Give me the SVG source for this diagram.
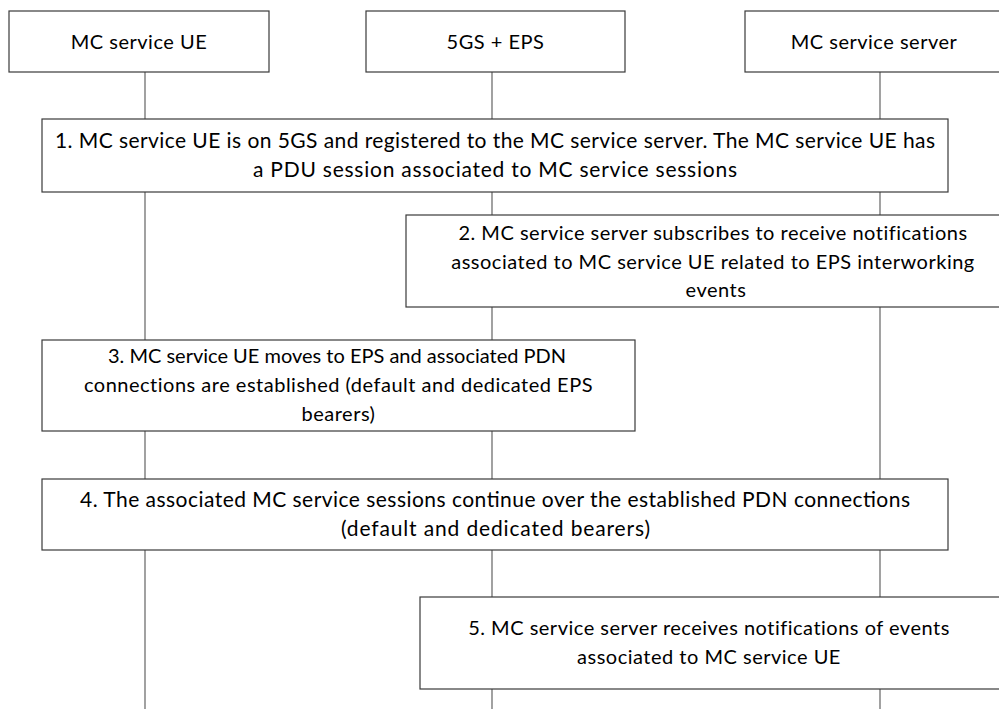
<svg xmlns="http://www.w3.org/2000/svg" width="999" height="709" viewBox="0 0 999 709">
  <style>
    .box { fill: #ffffff; stroke: #3a3a3a; stroke-width: 1.2; }
    .life { stroke: #7a7a7a; stroke-width: 1.4; fill: none; }
    text { font-family: Lato, "Liberation Sans", Arial, sans-serif; font-size: 20px; letter-spacing: 0.5px; fill: #000000; text-anchor: middle; }
    .wide { font-size: 21px; letter-spacing: 0; }
  </style>
  <rect x="0" y="0" width="999" height="709" fill="#ffffff"/>
  <g id="connectors">
    <line class="life" x1="145" y1="72" x2="145" y2="709"/>
    <line class="life" x1="492" y1="72" x2="492" y2="709"/>
    <line class="life" x1="880" y1="72" x2="880" y2="709"/>
  </g>
  <g id="header-ue">
    <rect class="box" x="9" y="11" width="260" height="61"/>
    <text x="139" y="49">MC service UE</text>
  </g>
  <g id="header-5gs-eps">
    <rect class="box" x="366" y="11" width="259" height="61"/>
    <text x="495.5" y="49">5GS + EPS</text>
  </g>
  <g id="header-server">
    <rect class="box" x="745" y="11" width="260" height="61"/>
    <text x="874" y="49">MC service server</text>
  </g>
  <g id="step1">
    <rect class="box" x="42" y="119" width="906" height="73"/>
    <text class="wide" x="495" y="148" textLength="880" lengthAdjust="spacing">1. MC service UE is on 5GS and registered to the MC service server. The MC service UE has</text>
    <text class="wide" x="495" y="177" textLength="484" lengthAdjust="spacing">a PDU session associated to MC service sessions</text>
  </g>
  <g id="step2">
    <rect class="box" x="406" y="215" width="620" height="92"/>
    <text x="713" y="240">2. MC service server subscribes to receive notifications</text>
    <text x="713" y="269">associated to MC service UE related to EPS interworking</text>
    <text x="716" y="297">events</text>
  </g>
  <g id="step3">
    <rect class="box" x="42" y="340" width="593" height="91"/>
    <text x="337" y="363" textLength="458" lengthAdjust="spacingAndGlyphs" style="letter-spacing:0">3. MC service UE moves to EPS and associated PDN</text>
    <text x="338.5" y="392">connections are established (default and dedicated EPS</text>
    <text x="338.5" y="421">bearers)</text>
  </g>
  <g id="step4">
    <rect class="box" x="42" y="479" width="906" height="71"/>
    <text class="wide" x="495" y="507" textLength="830" lengthAdjust="spacing">4. The associated MC service sessions continue over the established PDN connections</text>
    <text class="wide" x="495.5" y="536" textLength="309" lengthAdjust="spacing">(default and dedicated bearers)</text>
  </g>
  <g id="step5">
    <rect class="box" x="420" y="597" width="600" height="92"/>
    <text x="709" y="635">5. MC service server receives notifications of events</text>
    <text x="709" y="664">associated to MC service UE</text>
  </g>
</svg>
